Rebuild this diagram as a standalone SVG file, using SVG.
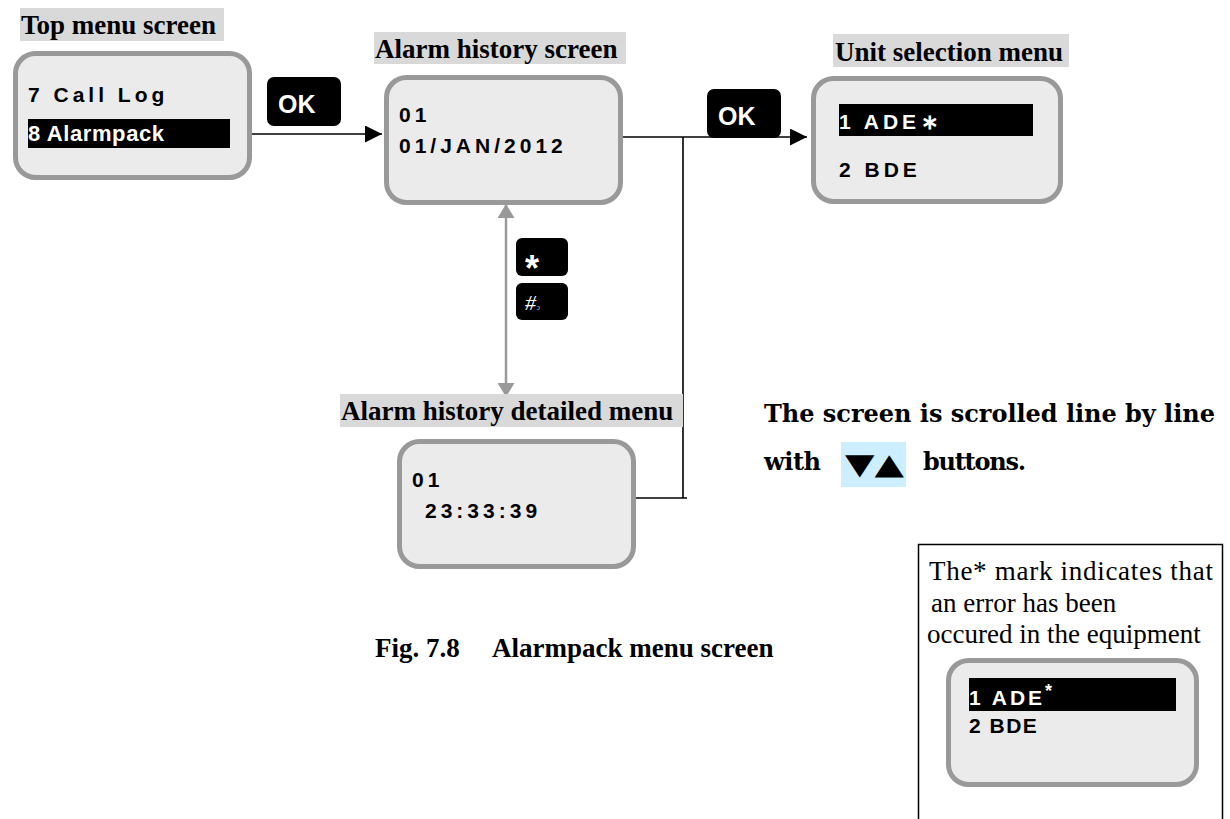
<svg xmlns="http://www.w3.org/2000/svg" width="1230" height="819" viewBox="0 0 1230 819">
<style>
.lbg{fill:#d9d9d9}
.lbl{font-family:"Liberation Serif","Times New Roman",serif;font-weight:bold;font-size:27px;fill:#000}
.scr{fill:#ebebeb;stroke:#999;stroke-width:5}
.st{font-family:"Liberation Sans",Arial,sans-serif;font-weight:bold;font-size:21px;letter-spacing:4px;fill:#000}
.hl{fill:#000}
.w{fill:#fff}
.key{fill:#000}
.kt{font-family:"Liberation Sans",Arial,sans-serif;font-weight:bold;font-size:25px;fill:#fff}
.ln{stroke:#000;stroke-width:1.6;fill:none}
.gl{stroke:#999;stroke-width:2.5;fill:none}
.note{font-family:"DejaVu Serif",serif;font-weight:bold;font-size:24px;fill:#000}
.tr{font-family:"Liberation Serif","Times New Roman",serif;font-size:27px;fill:#000}
</style>
<defs>
<marker id="ah" viewBox="0 0 17 17" refX="17" refY="8.5" markerWidth="17" markerHeight="17" markerUnits="userSpaceOnUse" orient="auto">
<path d="M0,0 L17,8.5 L0,17 Z" fill="#000"/>
</marker>
<marker id="gah" viewBox="0 0 14 17" refX="14" refY="8.5" markerWidth="14" markerHeight="17" markerUnits="userSpaceOnUse" orient="auto-start-reverse">
<path d="M0,0 L14,8.5 L0,17 Z" fill="#999"/>
</marker>
</defs>
<rect width="1230" height="819" fill="#fff"/>

<g id="connectors">
<line class="ln" x1="249" y1="134" x2="382" y2="134" marker-end="url(#ah)"/>
<line class="ln" x1="621" y1="137" x2="807" y2="137" marker-end="url(#ah)"/>
<line class="ln" x1="683" y1="137" x2="683" y2="498"/>
<line class="ln" x1="634" y1="498" x2="687" y2="498"/>
<line class="gl" x1="506" y1="204" x2="506" y2="397" marker-start="url(#gah)" marker-end="url(#gah)"/>
</g>

<g id="top-menu">
<rect class="lbg" x="20" y="8" width="204" height="33"/>
<text class="lbl" x="21" y="34">Top menu screen</text>
<rect class="scr" x="15.5" y="53.5" width="234" height="124" rx="20"/>
<text class="st" x="28" y="102">7 Call Log</text>
<rect class="hl" x="28" y="119" width="202" height="29"/>
<text class="st w" x="28" y="141" style="letter-spacing:0.6px;font-size:22px">8 Alarmpack</text>
</g>

<g id="ok1">
<rect class="key" x="267" y="77" width="74" height="49" rx="7"/>
<text class="kt" x="278" y="113">OK</text>
</g>

<g id="alarm-history">
<rect class="lbg" x="374" y="32" width="252" height="32"/>
<text class="lbl" x="375" y="58">Alarm history screen</text>
<rect class="scr" x="386.5" y="77.5" width="234" height="125" rx="20"/>
<text class="st" x="399" y="122">01</text>
<text class="st" x="399" y="153">01/JAN/2012</text>
</g>

<g id="ok2">
<rect class="key" x="707" y="89" width="74" height="49" rx="7"/>
<text class="kt" x="718" y="125">OK</text>
</g>

<g id="unit-selection">
<rect class="lbg" x="833" y="34" width="236" height="33"/>
<text class="lbl" x="835" y="61">Unit selection menu</text>
<rect class="scr" x="813.5" y="78.5" width="247" height="123" rx="20"/>
<rect class="hl" x="839" y="104" width="194" height="32"/>
<text class="st w" x="839" y="129">1 ADE<tspan x="921">∗</tspan></text>
<text class="st" x="839" y="177">2 BDE</text>
</g>

<g id="keys">
<rect class="key" x="516" y="238" width="52" height="38" rx="6"/>
<text x="525" y="281" style="font-family:'Liberation Sans',Arial,sans-serif;font-weight:bold;font-size:36px;fill:#fff">*</text>
<rect class="key" x="516" y="283" width="52" height="37" rx="6"/>
<text x="525" y="310" style="font-family:'Liberation Serif',serif;font-style:italic;font-size:22px;fill:#fff">#<tspan style="font-size:9px;fill:#bbb">ↄ</tspan></text>
</g>

<g id="detailed">
<rect class="lbg" x="340" y="394" width="343" height="33"/>
<text class="lbl" x="341" y="420">Alarm history detailed menu</text>
<rect class="scr" x="399.5" y="441.5" width="234" height="125" rx="20"/>
<text class="st" x="412" y="487">01</text>
<text class="st" x="425" y="518">23:33:39</text>
</g>

<g id="scroll-note">
<text class="note" x="764" y="422" textLength="451" lengthAdjust="spacing">The screen is scrolled line by line</text>
<text class="note" x="764" y="470" textLength="57" lengthAdjust="spacing">with</text>
<rect x="841" y="442" width="65" height="45" fill="#cceeff"/>
<text x="845" y="474" style="font-family:'DejaVu Sans',sans-serif;font-size:29px;fill:#000" textLength="59" lengthAdjust="spacingAndGlyphs">▼▲</text>
<text class="note" x="923" y="470" textLength="103" lengthAdjust="spacing">buttons.</text>
</g>

<g id="caption">
<text class="lbl" x="375" y="657">Fig. 7.8<tspan x="492">Alarmpack menu screen</tspan></text>
</g>

<g id="error-note">
<path d="M918.5,819 L918.5,544.5 L1222.5,544.5 L1222.5,819" fill="none" stroke="#000" stroke-width="1.5"/>
<text class="tr" x="929" y="580" textLength="284" lengthAdjust="spacing">The* mark indicates that</text>
<text class="tr" x="931" y="612">an error has been</text>
<text class="tr" x="927" y="643">occured in the equipment</text>
<rect class="scr" x="948.5" y="660.5" width="248" height="124" rx="20"/>
<rect class="hl" x="969" y="678" width="207" height="33"/>
<text class="st w" x="969" y="705" style="letter-spacing:3px">1 ADE<tspan dy="-8" style="font-size:18px">*</tspan></text>
<text class="st" x="969" y="733" style="letter-spacing:1.5px">2 BDE</text>
</g>
</svg>
